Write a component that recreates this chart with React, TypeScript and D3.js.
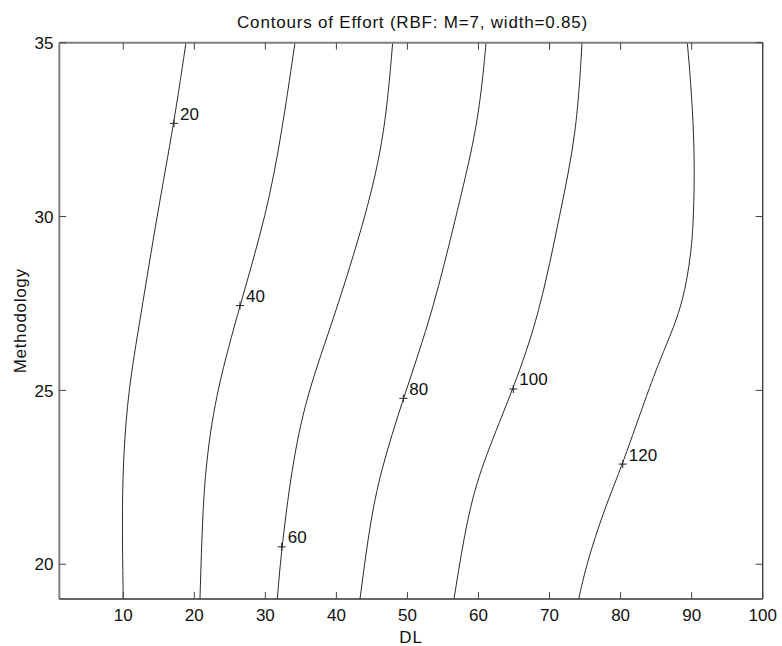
import React from "react";
import * as d3 from "d3";

const title = "Contours of Effort (RBF: M=7, width=0.85)";
const xLabel = "DL";
const yLabel = "Methodology";

const xTicks = [10, 20, 30, 40, 50, 60, 70, 80, 90, 100];
const yTicks = [20, 25, 30, 35];

const levels = [20, 40, 60, 80, 100, 120];

// contour paths: [DL, Methodology], bottom to top
const contour20: [number, number][] = [
  [10.0, 19], [9.9, 20.3], [9.87, 21.56], [10.01, 23.09], [10.71, 25.01],
  [12.36, 27.02], [14.8, 30.09], [17.14, 32.68], [18.83, 35],
];
const contour40: [number, number][] = [
  [20.8, 19], [21.18, 21.56], [21.75, 23.09], [23.15, 25.01], [26.43, 27.44],
  [30.19, 30.09], [32.3, 32.39], [34.17, 35],
];
const contour60: [number, number][] = [
  [31.68, 19], [32.3, 20.5], [33.93, 23.09], [36.05, 25.01], [39.56, 27.02],
  [44.27, 30.09], [46.84, 32.39], [47.92, 35],
];
const contour80: [number, number][] = [
  [43.32, 19], [44.97, 21.56], [46.84, 23.09], [49.42, 24.77], [53.64, 27.31],
  [56.93, 30.09], [59.65, 32.39], [60.68, 34.12], [61.06, 35],
];
const contour100: [number, number][] = [
  [56.55, 19], [58.57, 21.56], [60.92, 23.09], [64.9, 25.04], [68.6, 27.2],
  [71.47, 30.09], [73.82, 32.39], [74.57, 35],
];
const contour120: [number, number][] = [
  [74.1, 19], [75.23, 20.03], [77.66, 21.56], [80.3, 22.88], [83.9, 25.01],
  [86.1, 26.16], [87.9, 27.02], [89.1, 27.9], [89.8, 28.8], [90.2, 29.6],
  [90.43, 31.24], [90.24, 32.68], [89.77, 34.12], [89.39, 35],
];
const contours = [contour20, contour40, contour60, contour80, contour100, contour120];

// label anchor points ('+' marks)
const labelDL = [17.14, 26.43, 32.3, 49.42, 64.9, 80.3];
const labelM = [32.68, 27.44, 20.5, 24.77, 25.04, 22.88];

const W = 782;
const H = 646;
const left = 59.3, right = 762.7, top = 42.7, bottom = 599;
const FONT = "'Liberation Sans', Arial, Helvetica, sans-serif";

export default function App() {
  const x = d3.scaleLinear().domain([1, 100]).range([left, right]);
  const y = d3.scaleLinear().domain([19, 35]).range([bottom, top]);
  const line = d3
    .line<[number, number]>()
    .x((d) => x(d[0]))
    .y((d) => y(d[1]))
    .curve(d3.curveBasis);
  const tl = 7;
  return (
    <svg
      width={W}
      height={H}
      style={{ position: "absolute", left: 0, top: 0, background: "#fff" }}
      fontFamily={FONT}
    >
      <rect x={0} y={0} width={W} height={H} fill="#fff" />
      <defs>
        <clipPath id="plot">
          <rect x={left} y={top} width={right - left} height={bottom - top} />
        </clipPath>
      </defs>
      <g clipPath="url(#plot)">
        {contours.map((c, i) => (
          <path key={i} d={line(c) || ""} fill="none" stroke="#2a2a2a" strokeWidth={1} />
        ))}
      </g>
      {levels.map((lv, i) => {
        const px = x(labelDL[i]);
        const py = y(labelM[i]);
        return (
          <g key={lv}>
            <line x1={px - 4} x2={px + 4} y1={py} y2={py} stroke="#222" strokeWidth={1} />
            <line x1={px} x2={px} y1={py - 4} y2={py + 4} stroke="#222" strokeWidth={1} />
            <text x={px + 6} y={py - 3.5} fontSize={17} fill="#111">
              {lv}
            </text>
          </g>
        );
      })}
      {/* axes box */}
      <line x1={left} x2={right} y1={top} y2={top} stroke="#808080" strokeWidth={2} />
      <line x1={left} x2={left} y1={top} y2={bottom} stroke="#808080" strokeWidth={2} />
      <line x1={left} x2={right} y1={bottom} y2={bottom} stroke="#333" strokeWidth={1.3} />
      <line x1={right} x2={right} y1={top} y2={bottom} stroke="#333" strokeWidth={1.3} />
      {xTicks.map((t) => (
        <g key={"x" + t}>
          <line x1={x(t)} x2={x(t)} y1={bottom} y2={bottom - tl} stroke="#444" strokeWidth={1} />
          <line x1={x(t)} x2={x(t)} y1={top} y2={top + tl} stroke="#444" strokeWidth={1} />
          <text x={x(t)} y={620.5} textAnchor="middle" fontSize={17} fill="#111">
            {t}
          </text>
        </g>
      ))}
      {yTicks.map((t) => (
        <g key={"y" + t}>
          <line x1={left} x2={left + tl} y1={y(t)} y2={y(t)} stroke="#444" strokeWidth={1} />
          <line x1={right} x2={right - tl} y1={y(t)} y2={y(t)} stroke="#444" strokeWidth={1} />
          <text x={53.5} y={y(t)} dy="0.36em" textAnchor="end" fontSize={17} fill="#111">
            {t}
          </text>
        </g>
      ))}
      <text x={412.5} y={27.5} textAnchor="middle" fontSize={17} letterSpacing={0.8} fill="#111">
        {title}
      </text>
      <text x={411} y={642.5} textAnchor="middle" fontSize={17} letterSpacing={0.8} fill="#111">
        {xLabel}
      </text>
      <text
        transform={`translate(25.5,${(top + bottom) / 2}) rotate(-90)`}
        textAnchor="middle"
        fontSize={17}
        letterSpacing={0.7}
        fill="#111"
      >
        {yLabel}
      </text>
    </svg>
  );
}
